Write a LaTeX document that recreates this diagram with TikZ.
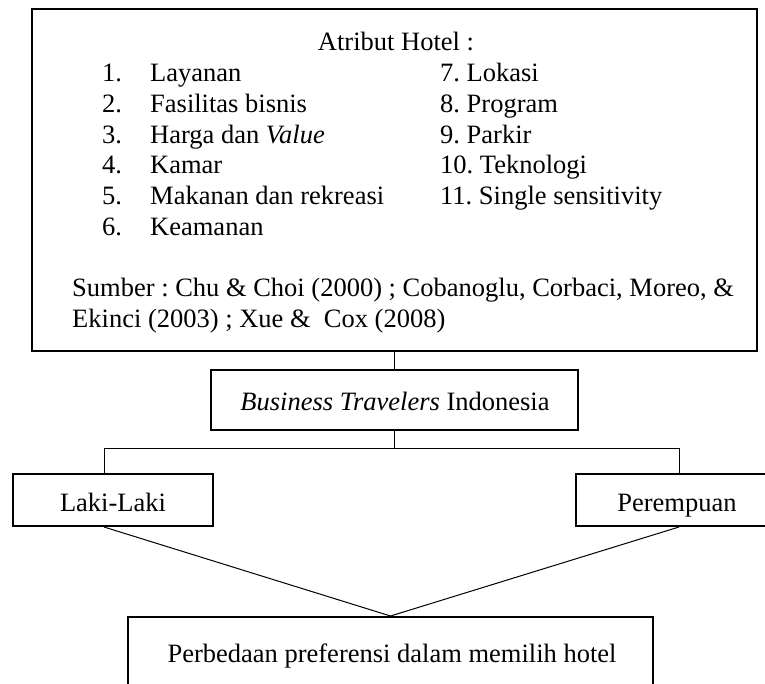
\documentclass[tikz,border=0pt]{standalone}
\usepackage{fontspec}
\setmainfont{Liberation Serif}
\frenchspacing
\begin{document}
\begin{tikzpicture}[x=1pt,y=-1pt,
  box/.style={draw=black,line width=2pt,rectangle,inner sep=0pt},
  conn/.style={draw=black,line width=1pt},
  txt/.style={anchor=base west,inner sep=0pt,font=\fontsize{26.5pt}{30.6pt}\selectfont},
  ctxt/.style={anchor=base,inner sep=0pt,font=\fontsize{26.5pt}{30.6pt}\selectfont}]
\useasboundingbox (0,0) rectangle (765,684);
% boxes
\node[box,minimum width=725pt,minimum height=342pt] (top) at (394.5,180) {};
\node[box,minimum width=367pt,minimum height=60pt] (bt) at (394.5,400) {};
\node[box,minimum width=200pt,minimum height=52pt] (laki) at (113,500) {};
\node[box,minimum width=202pt,minimum height=52pt] (per) at (677,500) {};
\node[box,minimum width=525pt,minimum height=90pt] (res) at (390.5,662) {};
% texts of the top box
\node[ctxt] (title) at (396,51) {Atribut Hotel :};
\node[txt] (n1) at (102,82) {1.};   \node[txt] (t1) at (150,82) {Layanan};
\node[txt] (n2) at (102,113) {2.};  \node[txt] (t2) at (150,113) {Fasilitas bisnis};
\node[txt] (n3) at (102,144) {3.};  \node[txt] (t3) at (150,144) {Harga dan \textit{Value}};
\node[txt] (n4) at (102,174) {4.};  \node[txt] (t4) at (150,174) {Kamar};
\node[txt] (n5) at (102,205) {5.};  \node[txt] (t5) at (150,205) {Makanan dan rekreasi};
\node[txt] (n6) at (102,236) {6.};  \node[txt] (t6) at (150,236) {Keamanan};
\node[txt] (r7) at (440,82) {7. Lokasi};
\node[txt] (r8) at (440,113) {8. Program};
\node[txt] (r9) at (440,144) {9. Parkir};
\node[txt] (r10) at (440,174) {10. Teknologi};
\node[txt] (r11) at (440,205) {11. Single sensitivity};
\node[txt] (s1) at (72,297) {Sumber : Chu \& Choi (2000) ; Cobanoglu, Corbaci, Moreo, \&};
\node[txt] (s2) at (72,327) {Ekinci (2003) ; Xue \&\ \ Cox (2008)};
% other texts
\node[ctxt] (btt) at (395,410) {\textit{Business Travelers} Indonesia};
\node[ctxt] (lakit) at (113,511) {Laki-Laki};
\node[ctxt] (pert) at (677,511) {Perempuan};
\node[ctxt] (rest) at (392,662) {Perbedaan preferensi dalam memilih hotel};
% connectors
\coordinate (jm) at (394.5,448);
\coordinate (jl) at (104,448);
\coordinate (jr) at (679,448);
\draw[conn] (top.south) -- (bt.north);
\draw[conn] (bt.south) -- (jm);
\draw[conn] (jl) -- (jr);
\draw[conn] (jl) -- (jl |- laki.north);
\draw[conn] (jr) -- (jr |- per.north);
\draw[conn] (jl |- laki.south) -- (res.north);
\draw[conn] (jr |- per.south) -- (res.north);
\end{tikzpicture}
\end{document}
